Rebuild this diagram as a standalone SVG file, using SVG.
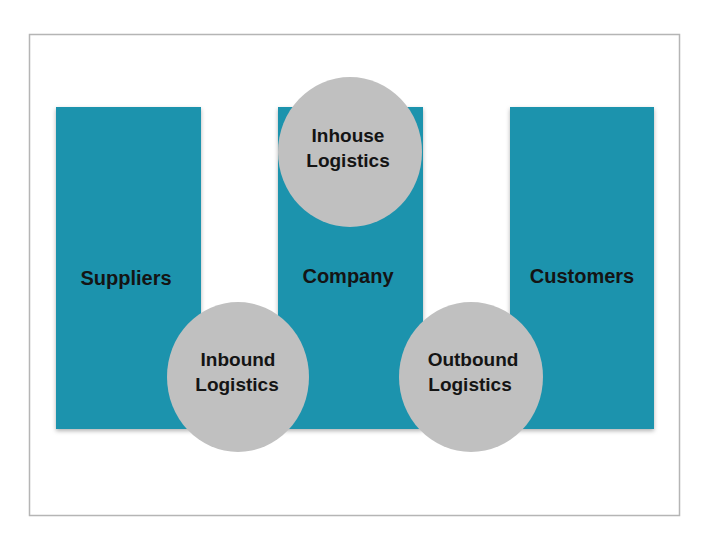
<svg xmlns="http://www.w3.org/2000/svg" width="720" height="540" viewBox="0 0 720 540">
<defs>
<filter id="sh" x="-10%" y="-10%" width="120%" height="120%">
<feDropShadow dx="0" dy="2" stdDeviation="2" flood-color="#000" flood-opacity="0.3"/>
</filter>
</defs>
<style>
.box{fill:#1a93ad;filter:url(#sh)}
.circ{fill:#c0c0c0}
.t{font-family:"Liberation Sans",Arial,sans-serif;font-weight:bold;font-size:19px;fill:#141414;text-anchor:middle}
.tb{font-size:20px}
</style>
<rect x="0" y="0" width="720" height="540" fill="#fff"/>
<rect x="29.5" y="34.5" width="650" height="481" fill="#fff" stroke="#b5b5b5" stroke-width="1.5"/>
<g id="suppliers">
<rect class="box" x="56" y="107" width="145" height="322"/>
<text class="t tb" x="126" y="285">Suppliers</text>
</g>
<g id="company">
<rect class="box" x="278" y="107" width="145" height="322"/>
<text class="t tb" x="348" y="283">Company</text>
</g>
<g id="customers">
<rect class="box" x="510" y="107" width="144" height="322"/>
<text class="t tb" x="582" y="283">Customers</text>
</g>
<g id="inhouse">
<ellipse class="circ" cx="350" cy="152" rx="72" ry="75"/>
<text class="t" x="348" y="142">Inhouse</text>
<text class="t" x="348" y="167">Logistics</text>
</g>
<g id="inbound">
<ellipse class="circ" cx="238" cy="377" rx="71" ry="75"/>
<text class="t" x="238" y="366">Inbound</text>
<text class="t" x="237" y="391">Logistics</text>
</g>
<g id="outbound">
<ellipse class="circ" cx="471" cy="377" rx="72" ry="75"/>
<text class="t" x="473" y="366">Outbound</text>
<text class="t" x="470" y="391">Logistics</text>
</g>
<g id="connectors"></g>
</svg>
